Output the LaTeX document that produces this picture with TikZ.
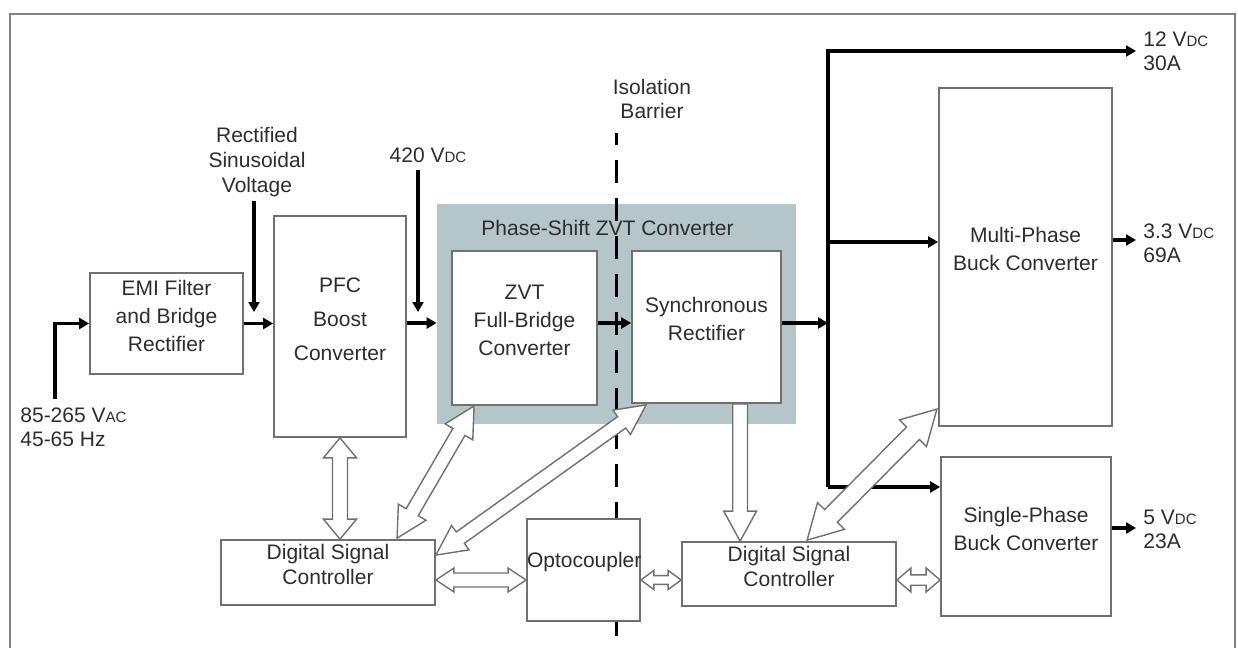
\documentclass[tikz,border=0pt]{standalone}
\usepackage{fontspec}
\setmainfont{Liberation Sans}
\usetikzlibrary{arrows.meta,calc,fit}
\definecolor{shadefill}{RGB}{180,198,199}
\definecolor{edge}{RGB}{112,112,112}
\definecolor{txt}{RGB}{45,45,45}
\definecolor{framec}{RGB}{130,130,130}
\newcommand\smc[1]{{\fontsize{7.5}{9}\selectfont #1}}
% hollow double arrow: #1 start, #2 end, #3 shaft half width, #4 head half width, #5 head length
\newcommand\DblArrow[5]{%
  \path let \p1=($(#2)-(#1)$) in \pgfextra{%
    \pgfmathsetmacro\myHL{veclen(\x1,\y1)}%
    \pgfmathsetmacro\myHA{atan2(\y1,\x1)}%
    \global\let\HLEN\myHL \global\let\HANG\myHA};
  \draw[hollow, shift={(#1)}, rotate=\HANG]
    (0pt,0pt) -- (#5,#4) -- (#5,#3) -- ({\HLEN pt-#5},#3) -- ({\HLEN pt-#5},#4)
    -- (\HLEN pt,0pt) -- ({\HLEN pt-#5},-#4) -- ({\HLEN pt-#5},-#3)
    -- (#5,-#3) -- (#5,-#4) -- cycle;}
% hollow single arrow (head at #2)
\newcommand\OneArrow[5]{%
  \path let \p1=($(#2)-(#1)$) in \pgfextra{%
    \pgfmathsetmacro\myHL{veclen(\x1,\y1)}%
    \pgfmathsetmacro\myHA{atan2(\y1,\x1)}%
    \global\let\HLEN\myHL \global\let\HANG\myHA};
  \draw[hollow, shift={(#1)}, rotate=\HANG]
    (0pt,#3) -- ({\HLEN pt-#5},#3) -- ({\HLEN pt-#5},#4)
    -- (\HLEN pt,0pt) -- ({\HLEN pt-#5},-#4) -- ({\HLEN pt-#5},-#3)
    -- (0pt,-#3) -- cycle;}
\begin{document}
\begin{tikzpicture}[x=0.5pt,y=-0.5pt,
  font=\fontsize{10.5}{14}\selectfont, text=txt,
  box/.style={draw=edge, line width=0.9pt, fill=white, inner sep=0pt, align=center},
  flow/.style={line width=1.8pt, -{Triangle[length=5pt,width=5.5pt]}},
  hollow/.style={draw=edge, line width=0.7pt, fill=white, line join=miter},
  lbl/.style={align=center, inner sep=0pt},
  rlbl/.style={align=left, inner sep=0pt, anchor=west, font=\fontsize{10.5}{12}\selectfont}]
\useasboundingbox (0,0) rectangle (1238,648);
\fill[white] (0,0) rectangle (1238,648);
% frame
\draw[framec, line width=0.8pt] (10,652) -- (10,14) -- (1235,14) -- (1235,652);

% shaded converter group
\node[fill=shadefill, inner sep=0pt, fit={(437,204) (796,424)}] (grp) {};
\node[lbl] (grplbl) at (607.5,228) {Phase-Shift ZVT Converter};

% isolation barrier
\node[lbl, font=\fontsize{10.5}{12}\selectfont] (isolbl) at (652,99) {Isolation\\Barrier};
\coordinate (isotop) at (616,133);
\coordinate (isobot) at (616,636);
\draw[line width=1.5pt, dash pattern=on 11.5pt off 7.5pt, dash phase=5.5pt] (isotop) -- (isobot);

% boxes
\node[box, fit={(90,273) (243,374)}] (emi) {EMI Filter\\and Bridge\\Rectifier};
\node[box, fit={(274,216) (406,437)}, font=\fontsize{10.5}{17}\selectfont] (pfc) {PFC\\Boost\\Converter};
\node[box, fit={(452,251) (597,405)}] (zvt) {ZVT\\Full-Bridge\\Converter};
\node[box, fit={(632,251) (781,403)}] (sync) {Synchronous\\Rectifier};
\node[box, fit={(939,88) (1112,426)}] (multi) {Multi-Phase\\Buck Converter};
\node[box, fit={(941,457) (1111,616)}] (single) {Single-Phase\\Buck Converter};
\node[box, fit={(221,540) (435,605)}, font=\fontsize{10.5}{12.5}\selectfont] (dsc1) {Digital Signal\\Controller};
\node[box, fit={(527,519) (640,621)}] (opto) {Optocoupler};
\node[box, fit={(682,542) (896,606)}, font=\fontsize{10.5}{12.5}\selectfont] (dsc2) {Digital Signal\\Controller};

% input
\coordinate (acin) at (55,399);
\node[rlbl] (aclbl) at (20,427) {85-265 V\smc{AC}\\45-65 Hz};
\node[lbl, font=\fontsize{10.5}{12.5}\selectfont] (rslbl) at (257,162) {Rectified\\Sinusoidal\\Voltage};
\coordinate (rsa) at (254,201);
\coordinate (rsb) at (254,312);
\node[lbl] (vlbl) at (428,155) {420 V\smc{DC}};
\coordinate (va) at (418,170);
\coordinate (vb) at (418,312);
\coordinate (row) at (0,323);

\draw[flow] (acin) |- (emi.west);
\draw[flow] (emi.east) -- (emi.east -| pfc.west);
\draw[flow] (rsa) -- (rsb);
\draw[flow] (va) -- (vb);
\draw[flow] (pfc.east |- row) -- (grp.west |- row);
\draw[flow] (zvt.east |- row) -- (sync.west |- row);

% output bus
\coordinate (busmid) at (828,323);
\coordinate (bustop) at (828,51);
\coordinate (busbr) at (828,242);
\coordinate (busbot) at (828,487);
\coordinate (out12) at (1136,51);
\coordinate (out33) at (1136,240);
\coordinate (out5) at (1136,528);
\draw[flow] (sync.east |- row) -- (busmid);
\draw[flow] (busbot) -- (bustop) -- (out12);
\draw[flow] (busbr) -- (multi.west |- busbr);
\draw[flow] (busbot) -- (single.west |- busbot);
\draw[flow] (multi.east |- out33) -- (out33);
\draw[flow] (single.east |- out5) -- (out5);
\node[rlbl] (l12) at (1143,51) {12 V\smc{DC}\\30A};
\node[rlbl] (l33) at (1143,243) {3.3 V\smc{DC}\\69A};
\node[rlbl] (l5) at (1143,529) {5 V\smc{DC}\\23A};

% hollow control arrows
\coordinate (h1a) at (pfc.south);
\coordinate (h1b) at (pfc.south |- dsc1.north);
\DblArrow{h1a}{h1b}{3.75pt}{8.3pt}{10pt}
\coordinate (h2a) at ($(dsc1.north west)+(177,-1)$);
\coordinate (h2b) at ($(zvt.south west)+(23,0)$);
\DblArrow{h2a}{h2b}{3.5pt}{8pt}{15pt}
\coordinate (h3a) at ($(dsc1.north east)+(0,16)$);
\coordinate (h3b) at ($(sync.south west)+(15,1)$);
\DblArrow{h3a}{h3b}{3.5pt}{7.5pt}{15pt}
\coordinate (r580) at (0,580);
\DblArrow{dsc1.east |- r580}{opto.west |- r580}{3.5pt}{6pt}{9pt}
\coordinate (h5a) at (opto.east |- r580);
\coordinate (h5b) at (dsc2.west |- r580);
\DblArrow{h5a}{h5b}{2.2pt}{4.8pt}{6.5pt}
\coordinate (h6a) at (dsc2.east |- r580);
\coordinate (h6b) at (single.west |- r580);
\DblArrow{h6a}{h6b}{2.6pt}{6pt}{7pt}
\coordinate (h7a) at ($(sync.south west)+(109,0)$);
\coordinate (h7b) at (h7a |- dsc2.north);
\OneArrow{h7a}{h7b}{3.7pt}{8.2pt}{15pt}
\coordinate (h8a) at ($(dsc2.north west)+(126,-1)$);
\coordinate (h8b) at ($(multi.south west)+(-1,-18)$);
\DblArrow{h8a}{h8b}{4.5pt}{9.5pt}{17pt}
\end{tikzpicture}
\end{document}
